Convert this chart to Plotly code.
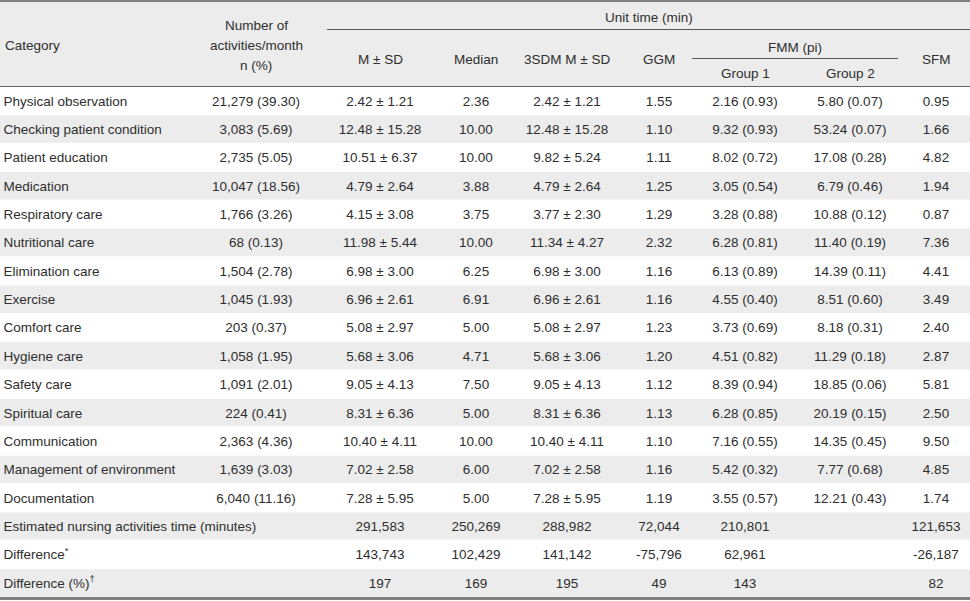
import plotly.graph_objects as go

# ---------------- data ----------------
categories = ["Physical observation", "Checking patient condition", "Patient education",
              "Medication", "Respiratory care", "Nutritional care", "Elimination care",
              "Exercise", "Comfort care", "Hygiene care", "Safety care", "Spiritual care",
              "Communication", "Management of environment", "Documentation"]
counts = [21279, 3083, 2735, 10047, 1766, 68, 1504, 1045, 203, 1058, 1091, 224, 2363, 1639, 6040]
count_pct = [39.30, 5.69, 5.05, 18.56, 3.26, 0.13, 2.78, 1.93, 0.37, 1.95, 2.01, 0.41, 4.36, 3.03, 11.16]
mean = [2.42, 12.48, 10.51, 4.79, 4.15, 11.98, 6.98, 6.96, 5.08, 5.68, 9.05, 8.31, 10.40, 7.02, 7.28]
sd = [1.21, 15.28, 6.37, 2.64, 3.08, 5.44, 3.00, 2.61, 2.97, 3.06, 4.13, 6.36, 4.11, 2.58, 5.95]
median = [2.36, 10.00, 10.00, 3.88, 3.75, 10.00, 6.25, 6.91, 5.00, 4.71, 7.50, 5.00, 10.00, 6.00, 5.00]
mean_3sdm = [2.42, 12.48, 9.82, 4.79, 3.77, 11.34, 6.98, 6.96, 5.08, 5.68, 9.05, 8.31, 10.40, 7.02, 7.28]
sd_3sdm = [1.21, 15.28, 5.24, 2.64, 2.30, 4.27, 3.00, 2.61, 2.97, 3.06, 4.13, 6.36, 4.11, 2.58, 5.95]
ggm = [1.55, 1.10, 1.11, 1.25, 1.29, 2.32, 1.16, 1.16, 1.23, 1.20, 1.12, 1.13, 1.10, 1.16, 1.19]
fmm_g1 = [2.16, 9.32, 8.02, 3.05, 3.28, 6.28, 6.13, 4.55, 3.73, 4.51, 8.39, 6.28, 7.16, 5.42, 3.55]
fmm_g1_pi = [0.93, 0.93, 0.72, 0.54, 0.88, 0.81, 0.89, 0.40, 0.69, 0.82, 0.94, 0.85, 0.55, 0.32, 0.57]
fmm_g2 = [5.80, 53.24, 17.08, 6.79, 10.88, 11.40, 14.39, 8.51, 8.18, 11.29, 18.85, 20.19, 14.35, 7.77, 12.21]
fmm_g2_pi = [0.07, 0.07, 0.28, 0.46, 0.12, 0.19, 0.11, 0.60, 0.31, 0.18, 0.06, 0.15, 0.45, 0.68, 0.43]
sfm = [0.95, 1.66, 4.82, 1.94, 0.87, 7.36, 4.41, 3.49, 2.40, 2.87, 5.81, 2.50, 9.50, 4.85, 1.74]

summary_labels = ["Estimated nursing activities time (minutes)", "Difference<sup>*</sup>",
                  "Difference (%)<sup>†</sup>"]
# columns: M±SD, Median, 3SDM, GGM, FMM, SFM
est_time = [291583, 250269, 288982, 72044, 210801, 121653]
difference = [143743, 102429, 141142, -75796, 62961, -26187]
difference_pct = [197, 169, 195, 49, 143, 82]

# ---------------- layout constants ----------------
W, H = 970, 601
FONT = "Liberation Sans, Arial, sans-serif"
FS = 13.5
TXT = "#2e2e2e"
GRAY = "#ececec"
header_top, header_bot, table_bot = 2, 86.5, 597
n_rows = len(categories) + len(summary_labels)
rh = (table_bot - header_bot) / n_rows
row_y = [header_bot + rh * (i + 0.5) for i in range(n_rows)]
text_dy = 1.5

col_x = {"num": 256, "msd": 380, "med": 476, "sdm": 567, "ggm": 659, "g1": 745, "g2": 850, "sfm": 936}

def fmt_int(v):
    s = f"{abs(v):,}"
    return ("-" if v < 0 else "") + s

fig = go.Figure()

shapes = []
# header background
shapes.append(dict(type="rect", x0=0, x1=W, y0=header_top, y1=header_bot, fillcolor=GRAY,
                   line_width=0, layer="below"))
for i in range(n_rows):
    if i % 2 == 1:
        shapes.append(dict(type="rect", x0=0, x1=W, y0=header_bot + rh * i + 0.5,
                           y1=header_bot + rh * (i + 1) - 0.5, fillcolor=GRAY, line_width=0, layer="below"))
# lines
shapes.append(dict(type="line", x0=0, x1=W, y0=1, y1=1, line=dict(color="#808080", width=2)))
shapes.append(dict(type="line", x0=0, x1=W, y0=header_bot, y1=header_bot, line=dict(color="#666666", width=1)))
shapes.append(dict(type="line", x0=0, x1=W, y0=598.5, y1=598.5, line=dict(color="#808080", width=3)))
shapes.append(dict(type="line", x0=327, x1=W, y0=29.5, y1=29.5, line=dict(color="#555555", width=1)))
shapes.append(dict(type="line", x0=692, x1=898, y0=58.5, y1=58.5, line=dict(color="#555555", width=1)))

def text_trace(xs, ys, texts, pos="middle center"):
    fig.add_trace(go.Scatter(x=xs, y=[y + text_dy for y in ys], text=texts, mode="text", textposition=pos,
                             textfont=dict(family=FONT, size=FS, color=TXT),
                             hoverinfo="skip", showlegend=False, cliponaxis=False))

nb = len(categories)
body_y = row_y[:nb]
sum_y = row_y[nb:]

# category column (left aligned)
text_trace([3.5] * n_rows, row_y, categories + summary_labels, pos="middle right")
text_trace([col_x["num"]] * nb, body_y, [f"{c:,} ({p:.2f})" for c, p in zip(counts, count_pct)])
text_trace([col_x["msd"]] * nb, body_y, [f"{m:.2f} ± {s:.2f}" for m, s in zip(mean, sd)])
text_trace([col_x["med"]] * nb, body_y, [f"{m:.2f}" for m in median])
text_trace([col_x["sdm"]] * nb, body_y, [f"{m:.2f} ± {s:.2f}" for m, s in zip(mean_3sdm, sd_3sdm)])
text_trace([col_x["ggm"]] * nb, body_y, [f"{g:.2f}" for g in ggm])
text_trace([col_x["g1"]] * nb, body_y, [f"{g:.2f} ({p:.2f})" for g, p in zip(fmm_g1, fmm_g1_pi)])
text_trace([col_x["g2"]] * nb, body_y, [f"{g:.2f} ({p:.2f})" for g, p in zip(fmm_g2, fmm_g2_pi)])
text_trace([col_x["sfm"]] * nb, body_y, [f"{s:.2f}" for s in sfm])

sum_cols = ["msd", "med", "sdm", "ggm", "g1", "sfm"]
for j, key in enumerate(sum_cols):
    vals = [fmt_int(est_time[j]), fmt_int(difference[j]), fmt_int(difference_pct[j])]
    text_trace([col_x[key]] * 3, sum_y, vals)

# header texts
annos = []
def hdr(x, y, t, anchor="center"):
    annos.append(dict(x=x, y=y + 1, text=t, showarrow=False, xanchor=anchor, yanchor="middle",
                      font=dict(family=FONT, size=FS, color=TXT)))

hdr(3, 44, "Category", "left")
hdr(col_x["num"], 24.5, "Number of")
hdr(col_x["num"], 44.5, "activities/month")
hdr(col_x["num"], 64, "n (%)")
hdr(649, 16, "Unit time (min)")
hdr(col_x["msd"], 58, "M ± SD")
hdr(col_x["med"], 58, "Median")
hdr(col_x["sdm"], 58, "3SDM M ± SD")
hdr(col_x["ggm"], 58, "GGM")
hdr(795, 46.5, "FMM (pi)")
hdr(col_x["g1"], 72, "Group 1")
hdr(col_x["g2"], 72, "Group 2")
hdr(col_x["sfm"], 58, "SFM")

fig.update_layout(
    width=W, height=H, margin=dict(l=0, r=0, t=0, b=0),
    paper_bgcolor="white", plot_bgcolor="white",
    xaxis=dict(range=[0, W], visible=False, fixedrange=True),
    yaxis=dict(range=[H, 0], visible=False, fixedrange=True),
    shapes=shapes, annotations=annos,
)
fig.write_html("out.html", config={"displayModeBar": False},
               post_script="document.body.style.margin='0';document.body.style.overflow='hidden';")
